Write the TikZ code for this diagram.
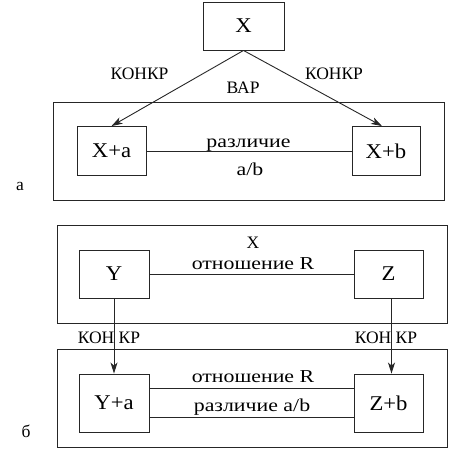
\documentclass[tikz,border=0pt]{standalone}
\usepackage{fontspec}
\setmainfont{Liberation Serif}
\newfontfamily\boxfont{Liberation Serif}[FakeStretch=1.08]
\newfontfamily\widefont{Liberation Serif}[FakeStretch=1.2]
\usetikzlibrary{arrows.meta}

\begin{document}
\begin{tikzpicture}[x=1pt,y=-1pt,
    box/.style={draw=black!85,line width=0.9pt,inner sep=0pt,font=\boxfont\fontsize{21}{24}\selectfont},
    lab/.style={anchor=base,inner sep=0pt,font=\fontsize{17.5}{20}\selectfont},
    widelab/.style={lab,font=\widefont\fontsize{18.2}{21}\selectfont},
    frame/.style={draw=black!85,line width=0.9pt},
    link/.style={draw=black!85,line width=0.9pt},
    arr/.style={link,-{Stealth[length=11pt,width=7pt,inset=3pt]}}]
            \useasboundingbox (0,0) rectangle (449,450);

            % Part a
            \node[box,minimum width=81pt,minimum height=48pt] (x) at (243.5,26) {X};
            \draw[frame] (53,102) rectangle (444,200);
            \node[box,minimum width=69pt,minimum height=49pt] (xa) at (111.5,151) {X+a};
            \node[box,minimum width=68pt,minimum height=49pt] (xb) at (386,151) {X+b};

            \draw[arr] (x.south) -- (xa.north);
            \draw[arr] (x.south) -- ([xshift=-4pt]xb.north);
            \draw[link] (xa) -- (xb);

            \node[lab] (k1) at (139.5,79) {КОНКР};
            \node[lab] (k2) at (334,79) {КОНКР};
            \node[lab] (var) at (243,93) {ВАР};
            \node[widelab] (d1) at (248.5,147) {различие};
            \node[widelab] (ab) at (250,175) {a/b};
            \node[lab] (pa) at (20,190) {а};

            % Part b
            \draw[frame] (57,225) rectangle (447,323);
            \node[box,minimum width=70pt,minimum height=48pt] (y) at (114,274) {Y};
            \node[box,minimum width=69pt,minimum height=48pt] (z) at (388.5,274) {Z};
            \draw[link] (y) -- (z);
            \node[lab] (x2) at (253,248) {X};
            \node[widelab] (r1) at (253,269) {отношение R};

            \draw[frame] (57,349) rectangle (447,447);
            \node[box,minimum width=70pt,minimum height=58pt] (ya) at (114,403) {Y+a};
            \node[box,minimum width=69pt,minimum height=58pt] (zb) at (388.5,403) {Z+b};

            \draw[arr] (y.south) -- (ya.north);
            \draw[arr] ([xshift=3pt]z.south) -- ([xshift=3pt]zb.north);
            \node[lab] (k3) at (109,343) {КОН КР};
            \node[lab] (k4) at (386,343) {КОН КР};

            % two links below
            \coordinate (l1) at (250,388);
            \coordinate (l2) at (250,417);
            \draw[link] (ya.east |- l1) -- (zb.west |- l1);
            \draw[link] (ya.east |- l2) -- (zb.west |- l2);
            \node[widelab] (r2) at (253,382) {отношение R};
            \node[widelab] (d2) at (252,411.5) {различие a/b};
            \node[lab] (pb) at (26,437) {б};

        \end{tikzpicture}
\end{document}
